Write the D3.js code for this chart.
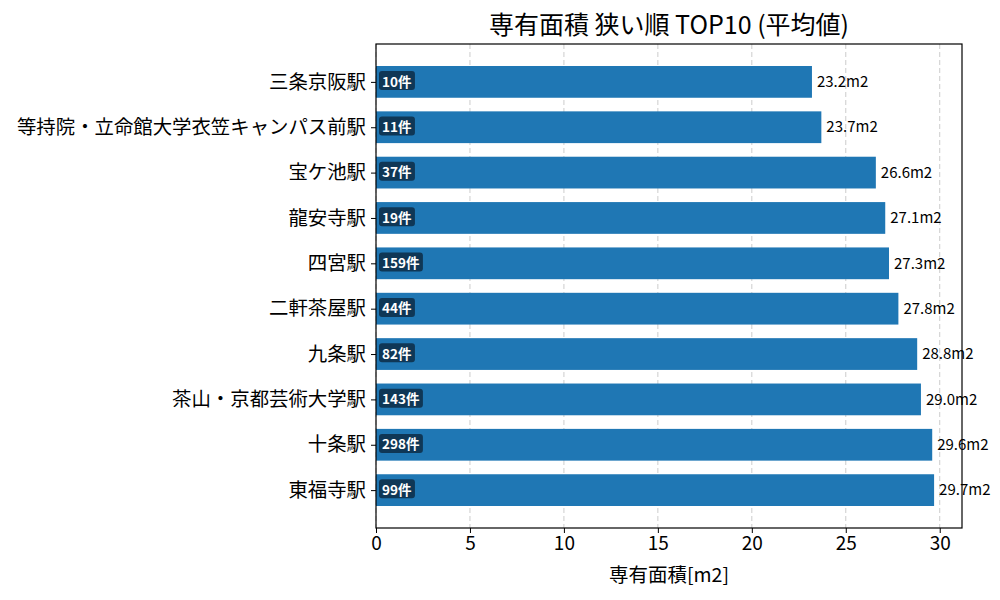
<!DOCTYPE html>
<html>
<head>
<meta charset="utf-8">
<script src="https://cdn.jsdelivr.net/npm/d3@7"></script>
<style>
body { margin: 0; background: white; }
text { font-family: "Noto Sans CJK JP", "Noto Sans", sans-serif; }
</style>
</head>
<body>
<svg id="chart"></svg>
<script>
// stations, top to bottom
var stations = ["三条京阪駅", "等持院・立命館大学衣笠キャンパス前駅", "宝ケ池駅", "龍安寺駅", "四宮駅",
    "二軒茶屋駅", "九条駅", "茶山・京都芸術大学駅", "十条駅", "東福寺駅"];
var areas = [23.2, 23.7, 26.6, 27.1, 27.3, 27.8, 28.8, 29.0, 29.6, 29.7];
var counts = [10, 11, 37, 19, 159, 44, 82, 143, 298, 99];
var xTicks = [0, 5, 10, 15, 20, 25, 30];

var svgWidth = 1000, svgHeight = 600;
var plotLeft = 376, plotRight = 962, plotTop = 44, plotBottom = 528;

var svg = d3.select("#chart").attr("width", svgWidth).attr("height", svgHeight);

var x = d3.scaleLinear()
    .domain([0, d3.max(areas) * 1.05])
    .range([plotLeft, plotRight]);

// matplotlib style: index positions with 5% margin
var y = d3.scaleLinear()
    .domain([-0.835, stations.length - 1 + 0.835])
    .range([plotTop, plotBottom]);
var barH = y(0.7) - y(0);

// grid lines
svg.append("g")
    .selectAll("line")
    .data(xTicks)
    .enter()
    .append("line")
    .attr("x1", function(d) { return x(d); })
    .attr("x2", function(d) { return x(d); })
    .attr("y1", plotTop)
    .attr("y2", plotBottom)
    .attr("stroke", "#cccccc")
    .attr("stroke-width", 1)
    .attr("stroke-dasharray", "5,3");

// bars
svg.append("g")
    .selectAll("rect")
    .data(areas)
    .enter()
    .append("rect")
    .attr("x", x(0))
    .attr("y", function(d, i) { return y(i) - barH / 2; })
    .attr("width", function(d) { return x(d) - x(0); })
    .attr("height", barH)
    .attr("fill", "#1f77b4");

// value labels
svg.append("g")
    .selectAll("text")
    .data(areas)
    .enter()
    .append("text")
    .attr("x", function(d) { return x(d) + 5; })
    .attr("y", function(d, i) { return y(i); })
    .attr("dy", "0.35em")
    .attr("font-size", "15px")
    .attr("fill", "black")
    .text(function(d) { return d.toFixed(1) + "m2"; });

// count badges
var badges = svg.append("g")
    .selectAll("g")
    .data(counts)
    .enter()
    .append("g");

badges.append("text")
    .attr("x", x(0) + 6)
    .attr("y", function(d, i) { return y(i); })
    .attr("dy", "0.35em")
    .attr("font-size", "13.5px")
    .attr("font-weight", "bold")
    .attr("fill", "white")
    .text(function(d) { return d + "件"; });

badges.each(function() {
    var g = d3.select(this);
    var bb = g.select("text").node().getBBox();
    var cy = bb.y + bb.height / 2;
    g.insert("rect", "text")
        .attr("x", bb.x - 3)
        .attr("y", cy - 9.5)
        .attr("width", bb.width + 6)
        .attr("height", 19)
        .attr("rx", 3)
        .attr("fill", "#0d2b45")
        .attr("fill-opacity", 0.85);
});

// axes
var xAxis = d3.axisBottom(x).tickValues(xTicks).tickSize(5).tickPadding(4);
var gx = svg.append("g")
    .attr("transform", "translate(0," + plotBottom + ")")
    .call(xAxis);
gx.selectAll("text").attr("font-size", "19px").attr("fill", "black")
    .style("font-family", "'Noto Sans CJK JP'");
gx.selectAll("line").attr("stroke", "black");
gx.select(".domain").remove();

var yAxis = d3.axisLeft(y)
    .tickValues(d3.range(stations.length))
    .tickFormat(function(i) { return stations[i]; })
    .tickSize(5).tickPadding(5);
var gy = svg.append("g")
    .attr("transform", "translate(" + plotLeft + ",0)")
    .call(yAxis);
gy.selectAll("text").attr("font-size", "19.4px").attr("fill", "black")
    .style("font-family", "'Noto Sans CJK JP'");
gy.selectAll("line").attr("stroke", "black");
gy.select(".domain").remove();

// frame
svg.append("rect")
    .attr("x", plotLeft)
    .attr("y", plotTop)
    .attr("width", plotRight - plotLeft)
    .attr("height", plotBottom - plotTop)
    .attr("fill", "none")
    .attr("stroke", "black")
    .attr("stroke-width", 1.2);

// titles
svg.append("text")
    .attr("x", (plotLeft + plotRight) / 2)
    .attr("y", 34)
    .attr("text-anchor", "middle")
    .attr("font-size", "25px")
    .text("専有面積 狭い順 TOP10 (平均値)");

svg.append("text")
    .attr("x", (plotLeft + plotRight) / 2)
    .attr("y", 582)
    .attr("text-anchor", "middle")
    .attr("font-size", "19.5px")
    .text("専有面積[m2]");
</script>
</body>
</html>
